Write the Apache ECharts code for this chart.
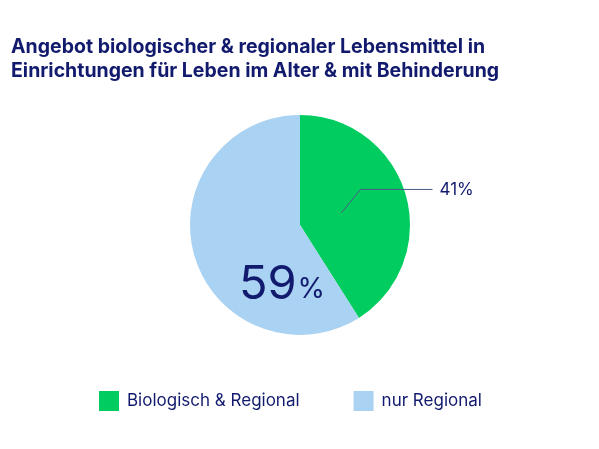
<!DOCTYPE html>
<html>
<head>
<meta charset="utf-8">
<script src="https://cdn.jsdelivr.net/npm/echarts@6/dist/echarts.min.js"></script>
<style>
html, body { margin: 0; padding: 0; background: #fff; }
#chart { width: 599px; height: 449px; }
</style>
</head>
<body>
<div id="chart"></div>
<script>
var titleText = 'Angebot biologischer & regionaler Lebensmittel in\nEinrichtungen für Leben im Alter & mit Behinderung';
var categories = ['Biologisch & Regional', 'nur Regional'];
var values = [41, 59];
var colors = ['#00cc5f', '#aad2f2'];
var navy = '#121a6e';
var fontFamily = 'Inter, "Noto Sans", sans-serif';

var chart = echarts.init(document.getElementById('chart'));

var mainData = categories.map(function (name, i) {
    var item = { name: name, value: values[i], itemStyle: { color: colors[i] } };
    if (i === 1) {
        item.label = {
            show: true,
            position: 'center',
            offset: [-18, 60],
            formatter: '{n|{c}}{p|%}',
            rich: {
                n: { fontSize: 47, color: navy, fontFamily: fontFamily, fontWeight: 400 },
                p: { fontSize: 28, color: navy, fontFamily: fontFamily, fontWeight: 400, padding: [10, 0, 0, 1] }
            }
        };
    }
    return item;
});

// small transparent copy, only to anchor the 41% leader line inside the slice
var anchorData = categories.map(function (name, i) {
    return {
        name: name,
        value: values[i],
        itemStyle: { color: 'rgba(0,0,0,0)' },
        label: { show: i === 0 },
        labelLine: { show: i === 0 }
    };
});

chart.setOption({
    animation: false,
    title: {
        text: titleText,
        left: 6,
        top: 30,
        textStyle: {
            color: navy,
            fontFamily: fontFamily,
            fontSize: 19.5,
            fontWeight: 700,
            lineHeight: 24
        }
    },
    legend: {
        data: categories,
        left: 94,
        top: 386,
        icon: 'rect',
        itemWidth: 20,
        itemHeight: 20,
        itemGap: 54,
        textStyle: { color: navy, fontFamily: fontFamily, fontSize: 17, padding: [0, 0, 0, 3] }
    },
    series: [{
        name: 'Angebot',
        type: 'pie',
        z: 2,
        center: [300, 225],
        radius: 110,
        startAngle: 90,
        clockwise: true,
        silent: true,
        label: { show: false },
        labelLine: { show: false },
        data: mainData
    }, {
        name: 'anchor',
        type: 'pie',
        z: 5,
        center: [300, 225],
        radius: 43,
        startAngle: 90,
        clockwise: true,
        silent: true,
        legendHoverLink: false,
        label: {
            position: 'outside',
            formatter: '{c}%',
            color: navy,
            fontFamily: fontFamily,
            fontSize: 17,
            distanceToLabelLine: 7
        },
        labelLine: {
            length: 20,
            length2: 72,
            lineStyle: { color: '#4a5a86', width: 1 }
        },
        labelLayout: function (params) {
            var pts = params.labelLinePoints;
            if (!pts) return {};
            var lift = 18;
            return {
                dy: -lift,
                labelLinePoints: [
                    pts[0],
                    [pts[1][0], pts[1][1] - lift],
                    [pts[2][0], pts[2][1] - lift]
                ]
            };
        },
        data: anchorData
    }]
});
window.onresize = chart.resize;
</script>
</body>
</html>
